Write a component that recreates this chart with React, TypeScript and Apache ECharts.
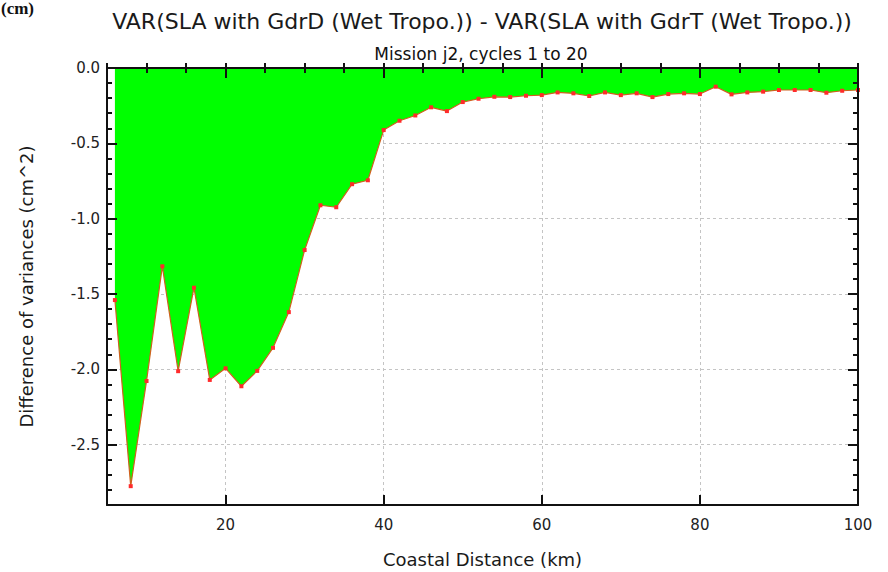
import React, { useEffect, useRef } from "react";
import * as echarts from "echarts";

// Coastal distance of each bin (km)
const distances = [
  6, 8, 10, 12, 14, 16, 18, 20, 22, 24, 26, 28, 30, 32, 34, 36, 38, 40, 42, 44,
  46, 48, 50, 52, 54, 56, 58, 60, 62, 64, 66, 68, 70, 72, 74, 76, 78, 80, 82, 84,
  86, 88, 90, 92, 94, 96, 98, 100,
];

// VAR(SLA GdrD) - VAR(SLA GdrT), cm^2
const varianceDiff = [
  -1.54, -2.775, -2.077, -1.316, -2.012, -1.458, -2.07, -1.993, -2.112, -2.01,
  -1.857, -1.62, -1.208, -0.911, -0.924, -0.771, -0.745, -0.412, -0.35, -0.315,
  -0.261, -0.286, -0.226, -0.204, -0.191, -0.193, -0.184, -0.18, -0.162, -0.168,
  -0.186, -0.162, -0.18, -0.168, -0.193, -0.173, -0.168, -0.173, -0.124, -0.175,
  -0.162, -0.157, -0.146, -0.146, -0.146, -0.164, -0.151, -0.146,
];

const meanLabel = "Mean = -0.6925";
const titleText = "VAR(SLA with GdrD (Wet Tropo.)) - VAR(SLA with GdrT (Wet Tropo.))";
const subtitleText = "Mission j2, cycles 1 to 20";
const xAxisTitle = "Coastal Distance (km)";
const yAxisTitle = "Difference of variances (cm^2)";
const panelTag = "(cm)";

const xRange = [5, 100];
const yRange = [-2.9, 0];

const FONT = "DejaVu Sans";
const LINE_COLOR = "#d0601e";
const MARK_COLOR = "#ff2b2b";

export default function App() {
  const ref = useRef<HTMLDivElement>(null);

  useEffect(() => {
    if (!ref.current) return;
    const chart = echarts.init(ref.current, undefined, { renderer: "svg" });

    const hidden = { show: false };

    // axes carrying labels, names and dashed grid lines (under the fill)
    const xMain = {
      type: "value",
      position: "bottom",
      min: xRange[0],
      max: xRange[1],
      splitNumber: 5,
      minInterval: 20,
      maxInterval: 20,
      z: 0,
      name: xAxisTitle,
      nameLocation: "middle",
      nameGap: 45,
      nameTextStyle: { fontFamily: FONT, fontSize: 18, color: "#1a1a1a" },
      axisLine: hidden,
      axisTick: hidden,
      axisLabel: {
        showMinLabel: false,
        margin: 12,
        fontFamily: FONT,
        fontSize: 15,
        color: "#222",
        formatter: (v: number) => (v % 20 === 0 ? String(v) : ""),
      },
      splitLine: { show: true, lineStyle: { color: "#c4c4c4", type: [3, 3], width: 1 } },
    };
    const yMain = {
      type: "value",
      position: "left",
      min: yRange[0],
      max: yRange[1],
      splitNumber: 6,
      minInterval: 0.5,
      maxInterval: 0.5,
      z: 0,
      name: yAxisTitle,
      nameLocation: "middle",
      nameGap: 72,
      nameTextStyle: { fontFamily: FONT, fontSize: 18, color: "#1a1a1a" },
      axisLine: hidden,
      axisTick: hidden,
      axisLabel: {
        showMinLabel: false,
        margin: 7,
        fontFamily: FONT,
        fontSize: 15,
        color: "#222",
        formatter: (v: number) =>
          Math.abs(v * 2 - Math.round(v * 2)) < 1e-6 ? v.toFixed(1) : "",
      },
      splitLine: { show: true, lineStyle: { color: "#c4c4c4", type: [3, 3], width: 1 } },
    };

    // frame axes: black box with inward major/minor ticks, drawn above the fill
    const frameX = (position: string, major: boolean) => ({
      type: "value",
      position,
      min: xRange[0],
      max: xRange[1],
      ...(major
        ? { splitNumber: 5, minInterval: 20, maxInterval: 20 }
        : { interval: 5 }),
      z: 10,
      axisLine: major
        ? { show: true, onZero: false, lineStyle: { color: "#111", width: 2 } }
        : hidden,
      axisTick: {
        show: true,
        inside: true,
        length: major ? 10 : 5,
        lineStyle: { color: "#111", width: 2 },
      },
      axisLabel: hidden,
      splitLine: hidden,
    });
    const frameY = (position: string, major: boolean) => ({
      type: "value",
      position,
      min: yRange[0],
      max: yRange[1],
      ...(major
        ? { splitNumber: 6, minInterval: 0.5, maxInterval: 0.5 }
        : { interval: 0.1 }),
      z: 10,
      axisLine: major
        ? { show: true, onZero: false, lineStyle: { color: "#111", width: 2 } }
        : hidden,
      axisTick: {
        show: true,
        inside: true,
        length: major ? 10 : 5,
        lineStyle: { color: "#111", width: 2 },
      },
      axisLabel: hidden,
      splitLine: hidden,
    });

    chart.setOption({
      animation: false,
      backgroundColor: "#ffffff",
      grid: {
        left: 107,
        right: 30,
        top: 68,
        bottom: 67,
        containLabel: false,
        outerBoundsMode: "none",
      },
      xAxis: [
        xMain,
        frameX("bottom", true),
        frameX("bottom", false),
        frameX("top", true),
        frameX("top", false),
      ],
      yAxis: [
        yMain,
        frameY("left", true),
        frameY("left", false),
        frameY("right", true),
        frameY("right", false),
      ],
      series: [
        {
          type: "line",
          name: meanLabel,
          xAxisIndex: 0,
          yAxisIndex: 0,
          data: distances.map((d, i) => [d, varianceDiff[i]]),
          symbol: "rect",
          symbolSize: 4,
          showSymbol: true,
          itemStyle: { color: MARK_COLOR },
          lineStyle: { color: LINE_COLOR, width: 1.2 },
          areaStyle: { color: "#00ff00", opacity: 1 },
          z: 2,
        },
      ],
      graphic: [
        {
          type: "text",
          x: 482,
          y: 21,
          z: 20,
          style: {
            text: titleText,
            fontFamily: FONT,
            fontSize: 22,
            fill: "#1a1a1a",
            align: "center",
            verticalAlign: "middle",
          },
        },
        {
          type: "text",
          x: 481,
          y: 54,
          z: 20,
          style: {
            text: subtitleText,
            fontFamily: FONT,
            fontSize: 17,
            fill: "#111",
            align: "center",
            verticalAlign: "middle",
          },
        },
        {
          type: "text",
          x: 1,
          y: 8,
          z: 20,
          style: {
            text: panelTag,
            fontFamily: "Liberation Serif",
            fontWeight: "bold",
            fontSize: 17,
            fill: "#111",
            align: "left",
            verticalAlign: "middle",
          },
        },
        {
          type: "group",
          z: 20,
          children: [
            {
              type: "line",
              shape: { x1: 125, y1: 87, x2: 163, y2: 87 },
              style: { stroke: "#e0441c", lineWidth: 1.2 },
            },
            {
              type: "rect",
              shape: { x: 141, y: 85, width: 4, height: 4 },
              style: { fill: MARK_COLOR },
            },
            {
              type: "text",
              x: 182,
              y: 87,
              style: {
                text: meanLabel,
                fontFamily: FONT,
                fontSize: 15,
                fill: "#111",
                align: "left",
                verticalAlign: "middle",
              },
            },
          ],
        },
      ],
    });

    return () => chart.dispose();
  }, []);

  return (
    <div
      ref={ref}
      style={{ position: "absolute", left: 0, top: 0, width: 888, height: 572 }}
    />
  );
}
